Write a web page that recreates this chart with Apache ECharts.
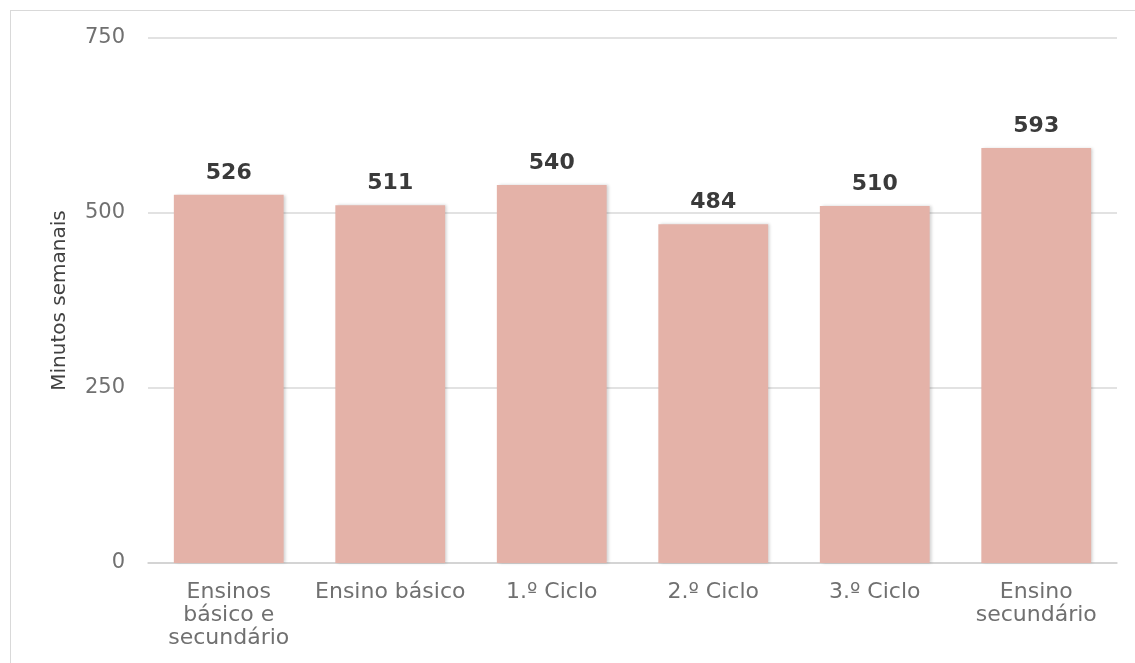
<!DOCTYPE html>
<html>
<head>
<meta charset="utf-8">
<style>
  html, body { margin: 0; padding: 0; background: #fff; }
  #frame { position: absolute; left: 10px; top: 10px; width: 1140px; height: 680px; border: 1px solid #d9d9d9; box-sizing: border-box; }
  #chart { position: absolute; left: 0; top: 0; width: 1135px; height: 663px; }
</style>
<script src="https://cdn.jsdelivr.net/npm/echarts@6/dist/echarts.min.js"></script>
</head>
<body>
<div id="frame"></div>
<div id="chart"></div>
<script>
const categories = ["Ensinos\nbásico e\nsecundário", "Ensino básico", "1.º Ciclo", "2.º Ciclo", "3.º Ciclo", "Ensino\nsecundário"];
const values = [526, 511, 540, 484, 510, 593];
const yTicks = [0, 250, 500, 750];
const yAxisName = "Minutos semanais";

const chart = echarts.init(document.getElementById('chart'), null, { renderer: 'canvas' });
chart.setOption({
  animation: false,
  backgroundColor: 'transparent',
  grid: { left: 148, right: 18, top: 38, bottom: 100 },
  xAxis: {
    type: 'category',
    data: categories,
    axisLine: { show: true, lineStyle: { color: '#d0d0d0', width: 1.5 } },
    axisTick: { show: false },
    axisLabel: {
      color: '#707070', fontFamily: 'DejaVu Sans', fontSize: 22, lineHeight: 23,
      margin: 18, interval: 0, align: 'center'
    }
  },
  yAxis: {
    type: 'value',
    min: yTicks[0], max: yTicks[yTicks.length - 1], interval: 250,
    name: yAxisName,
    nameLocation: 'middle',
    nameGap: 78,
    nameRotate: 90,
    nameTextStyle: { color: '#404040', fontFamily: 'DejaVu Sans', fontSize: 20 },
    axisLine: { show: false },
    axisTick: { show: false },
    axisLabel: { color: '#707070', fontFamily: 'DejaVu Sans', fontSize: 21, margin: 23 },
    splitLine: { lineStyle: { color: '#d9d9d9', width: 1.5 } }
  },
  series: [{
    type: 'bar',
    data: values,
    barWidth: '68%',
    itemStyle: {
      color: '#e4b2a8',
      shadowColor: 'rgba(0,0,0,0.18)', shadowBlur: 3, shadowOffsetX: 2, shadowOffsetY: 0
    },
    label: {
      show: true, position: 'top', distance: 11,
      color: '#3a3a3a', fontFamily: 'DejaVu Sans', fontWeight: 'bold', fontSize: 22
    }
  }]
});
</script>
</body>
</html>
